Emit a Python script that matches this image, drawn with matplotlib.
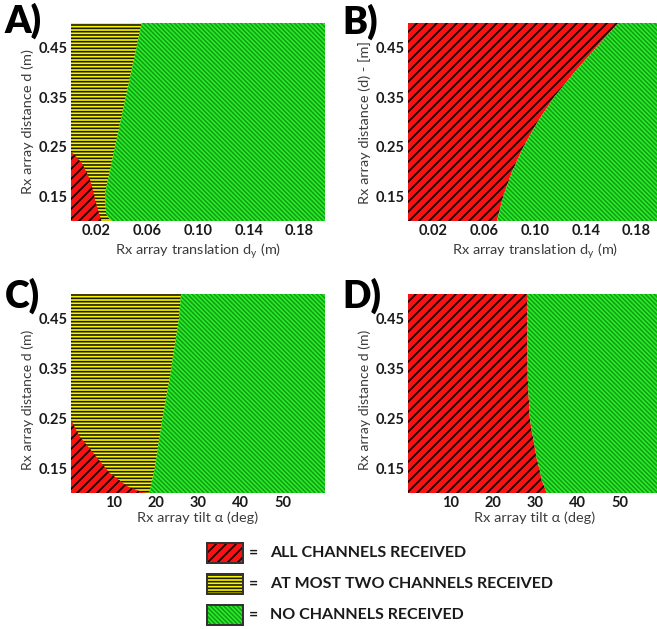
import matplotlib
matplotlib.use('Agg')
import matplotlib.pyplot as plt
from matplotlib.patches import Rectangle

plt.rcParams['font.family'] = ['Lato', 'DejaVu Sans']

W, H, DPI = 657, 629, 120

RED, RED_HATCH = '#ff1010', '#000000'
YEL, YEL_HATCH = '#faf600', '#1c1c00'
GRN, GRN_HATCH = '#2cf02c', '#14a014'
TXT = '#1a1a1a'
LBL = '#3c3c3c'

# ── region boundaries ────────────────────────────────────────────────────────
# A) translation, red = all channels, yellow = at most two, green = none
a_red_d = [0.240, 0.233, 0.217, 0.200, 0.183, 0.160, 0.142, 0.120, 0.100]
a_red_x = [0.000, 0.003, 0.0084, 0.012, 0.015, 0.0175, 0.019, 0.0215, 0.024]
a_grn_d = [0.100, 0.108, 0.116, 0.156, 0.250, 0.350, 0.500]
a_grn_x = [0.032, 0.029, 0.0276, 0.0268, 0.0347, 0.0431, 0.0557]

# B) translation, red / green only
b_grn_d = [0.100, 0.150, 0.200, 0.250, 0.300, 0.350, 0.400, 0.450, 0.500]
b_grn_x = [0.070, 0.075, 0.082, 0.091, 0.102, 0.115, 0.131, 0.148, 0.1656]

# C) tilt, red / yellow / green
c_red_d = [0.247, 0.230, 0.213, 0.180, 0.160, 0.140, 0.114, 0.102, 0.100]
c_red_x = [0.0, 1.0, 2.1, 5.3, 7.2, 9.2, 13.2, 16.7, 18.0]
c_grn_d = [0.100, 0.150, 0.250, 0.330, 0.450, 0.500]
c_grn_x = [18.5, 19.8, 21.6, 23.3, 25.5, 26.0]

# D) tilt, red / green only
d_grn_d = [0.100, 0.126, 0.150, 0.173, 0.200, 0.227, 0.250, 0.327, 0.400, 0.500]
d_grn_x = [32.8, 31.6, 31.0, 30.3, 29.8, 29.2, 28.8, 28.3, 28.2, 28.1]

d_ticks = [0.15, 0.25, 0.35, 0.45]
trans_ticks = [0.02, 0.06, 0.10, 0.14, 0.18]
tilt_ticks = [10, 20, 30, 40, 50]

legend_labels = ['ALL CHANNELS RECEIVED',
                 'AT MOST TWO CHANNELS RECEIVED',
                 'NO CHANNELS RECEIVED']

STYLE = {
    'red': dict(facecolor=RED, edgecolor=RED_HATCH, hatch='////', hlw=2.2),
    'yel': dict(facecolor=YEL, edgecolor=YEL_HATCH, hatch='-' * 6, hlw=1.0),
    'grn': dict(facecolor=GRN, edgecolor=GRN_HATCH, hatch='\\' * 9, hlw=0.55),
}


def hatch_lw(artist, lw):
    # hatch linewidth is read from rcParams when the artist is drawn
    orig = artist.draw

    def draw(renderer):
        with plt.rc_context({'hatch.linewidth': lw}):
            orig(renderer)
    artist.draw = draw
    return artist


def region(ax, d, x0, x1, kind):
    s = STYLE[kind]
    coll = ax.fill_betweenx(d, x0, x1, facecolor=s['facecolor'],
                            edgecolor=s['edgecolor'], hatch=s['hatch'],
                            linewidth=0)
    return hatch_lw(coll, s['hlw'])


def px(left, top, right, bottom):
    return [left / W, 1 - bottom / H, (right - left) / W, (bottom - top) / H]


fig = plt.figure(figsize=(W / DPI, H / DPI), dpi=DPI)
fig.patch.set_facecolor('white')

axA = fig.add_axes(px(71, 23, 325, 221))
axB = fig.add_axes(px(408, 23, 662, 221))
axC = fig.add_axes(px(71, 294, 325, 493))
axD = fig.add_axes(px(408, 294, 662, 493))

# A
region(axA, a_grn_d, 0, a_grn_x, 'yel')
region(axA, a_red_d, 0, a_red_x, 'red')
region(axA, a_grn_d, a_grn_x, 0.2, 'grn')

# B
region(axB, b_grn_d, 0, b_grn_x, 'red')
region(axB, b_grn_d, b_grn_x, 0.2, 'grn')

# C
region(axC, c_grn_d, 0, c_grn_x, 'yel')
region(axC, c_red_d, 0, c_red_x, 'red')
region(axC, c_grn_d, c_grn_x, 60, 'grn')

# D
region(axD, d_grn_d, 0, d_grn_x, 'red')
region(axD, d_grn_d, d_grn_x, 60, 'grn')

ylabels = ['Rx array distance d (m)', 'Rx array distance (d) - [m]',
           'Rx array distance d (m)', 'Rx array distance d (m)']
xlabel_trans = r'Rx array translation d$_{\mathregular{y}}$ (m)'
xlabel_tilt = 'Rx array tilt α (deg)'

for ax, yl, tag in zip([axA, axB, axC, axD], ylabels, 'ABCD'):
    ax.set_ylim(0.1, 0.5)
    if tag in 'AB':
        ax.set_xlim(0, 0.2)
        ax.set_xticks(trans_ticks)
        ax.set_xticklabels([f'{t:.2f}' for t in trans_ticks])
        ax.set_xlabel(xlabel_trans, fontsize=8.7, color=LBL, labelpad=1.5)
        ax.set_ylabel(yl, fontsize=8.7, color=LBL, labelpad=3)
    else:
        ax.set_xlim(0, 60)
        ax.set_xticks(tilt_ticks)
        ax.set_xticklabels([str(t) for t in tilt_ticks])
        ax.set_xlabel(xlabel_tilt, fontsize=8.7, color=LBL, labelpad=0.5)
        ax.set_ylabel(yl, fontsize=8.4, color=LBL, labelpad=3)
        ax.yaxis.label.set_y(0.47)
    ax.set_yticks(d_ticks)
    ax.set_yticklabels([f'{t:.2f}' for t in d_ticks])
    ax.tick_params(length=0, pad=2, labelsize=8.8, labelcolor=TXT)
    for lab in ax.get_xticklabels() + ax.get_yticklabels():
        lab.set_fontweight('bold')
    for sp in ax.spines.values():
        sp.set_visible(False)

# panel letters
for txt, x, y in [('A)', 4, 33), ('B)', 342, 34), ('C)', 5, 308), ('D)', 342, 308)]:
    fig.text(x / W, 1 - y / H, txt, fontsize=22.5, fontweight='heavy',
             color='black', ha='left', va='baseline')

# legend
rows = [553, 584, 615]
kinds = ['red', 'yel', 'grn']
leg_hatch = {'red': '////', 'yel': '-' * 6, 'grn': '\\' * 9}
leg_lw = {'red': 2.2, 'yel': 1.6, 'grn': 0.55}
for yc, kind, lab in zip(rows, kinds, legend_labels):
    s = STYLE[kind]
    rect = Rectangle((207 / W, 1 - (yc + 10) / H), 36 / W, 20 / H,
                     transform=fig.transFigure, facecolor=s['facecolor'],
                     edgecolor=s['edgecolor'], hatch=leg_hatch[kind],
                     linewidth=0)
    fig.add_artist(hatch_lw(rect, leg_lw[kind]))
    fig.add_artist(Rectangle((207 / W, 1 - (yc + 10) / H), 36 / W, 20 / H,
                             transform=fig.transFigure, facecolor='none',
                             edgecolor='#333333', linewidth=1.2))
    fig.text(253 / W, 1 - yc / H, '=', fontsize=9.5, fontweight='bold',
             color=TXT, ha='center', va='center')
    fig.text(270 / W, 1 - yc / H, lab, fontsize=9.6, fontweight='bold',
             color=TXT, ha='left', va='center')

fig.savefig('out.png', dpi=DPI, facecolor='white')
